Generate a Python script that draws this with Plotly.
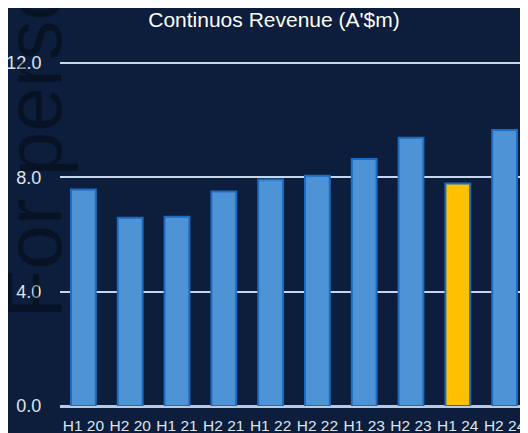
import plotly.graph_objects as go

categories = ["H1 20", "H2 20", "H1 21", "H2 21", "H1 22", "H2 22", "H1 23", "H2 23", "H1 24", "H2 24"]
revenue = [7.57, 6.58, 6.62, 7.5, 7.92, 8.05, 8.64, 9.38, 7.78, 9.65]
highlight = "H1 24"
y_ticks = [0, 4, 8, 12]
y_tick_labels = ["0.0", "4.0", "8.0", "12.0"]
title_text = "Continuos Revenue (A'$m)"
watermark = "For personal use only"

bar_colors = ["#ffc000" if c == highlight else "#4f93d7" for c in categories]

fig = go.Figure(
    go.Bar(
        x=categories,
        y=revenue,
        marker=dict(color=bar_colors, line=dict(color="#1a6dc2", width=2)),
    )
)

font_family = "Arial, Liberation Sans, sans-serif"

fig.update_layout(
    width=520,
    height=433,
    margin=dict(l=52, r=0, t=52, b=35, autoexpand=False),
    paper_bgcolor="#0c1e3b",
    plot_bgcolor="rgba(0,0,0,0)",
    bargap=0.47,
    showlegend=False,
    title=dict(
        text=title_text,
        x=0.5115,
        xanchor="center",
        y=1 - 12 / 433,
        yanchor="middle",
        font=dict(family=font_family, size=21, color="#ffffff"),
    ),
    xaxis=dict(
        showgrid=False,
        automargin=False,
        tickfont=dict(family=font_family, size=15.5, color="#dde4ef"),
        ticks="outside",
        ticklen=5,
        tickcolor="rgba(0,0,0,0)",
        showline=False,
    ),
    yaxis=dict(
        range=[0, 12.1],
        automargin=False,
        tickvals=y_ticks,
        ticktext=y_tick_labels,
        showgrid=True,
        gridcolor="#c6d7ec",
        gridwidth=2,
        zeroline=True,
        zerolinecolor="#b9cbe3",
        zerolinewidth=3,
        tickfont=dict(family=font_family, size=18, color="#dde4ef"),
        ticks="outside",
        ticklen=14,
        tickcolor="rgba(0,0,0,0)",
        showline=False,
    ),
    annotations=[
        dict(
            text=watermark,
            xref="paper",
            yref="paper",
            x=-0.157,
            y=0.246,
            xanchor="left",
            yanchor="bottom",
            textangle=-90,
            showarrow=False,
            font=dict(family=font_family, size=80, color="rgba(0,0,0,0.36)"),
        )
    ],
)

fig.write_html("out.html")
